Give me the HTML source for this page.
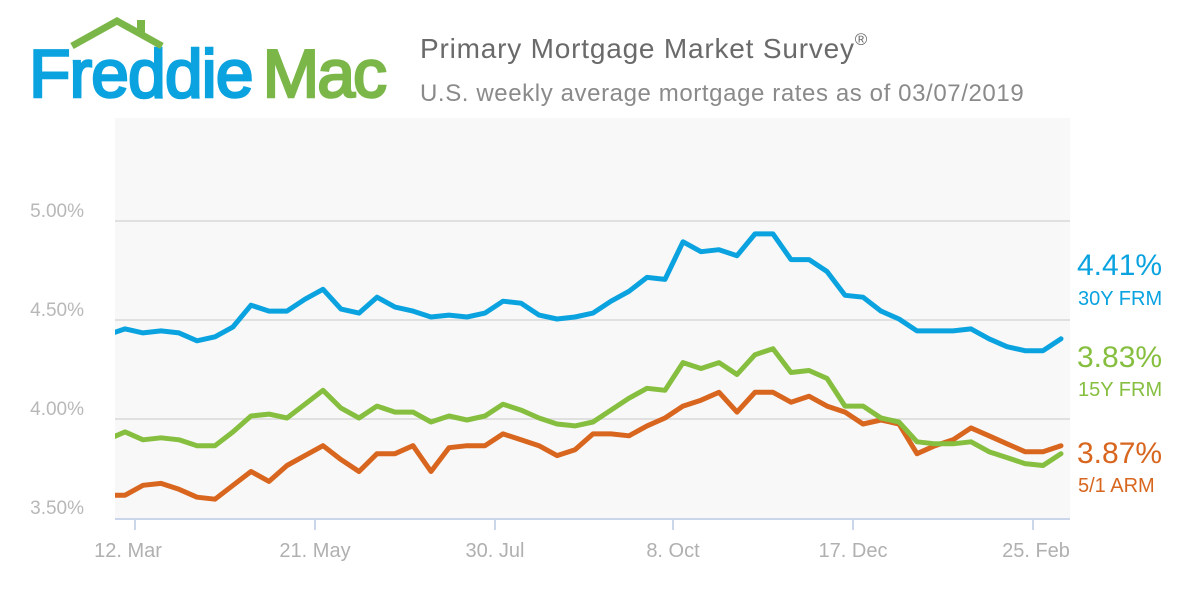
<!DOCTYPE html>
<html><head><meta charset="utf-8">
<style>
body{margin:0;width:1200px;height:600px;background:#fff;overflow:hidden;font-family:"Liberation Sans",sans-serif;}
</style></head>
<body>
<svg id="s" width="1200" height="600" xmlns="http://www.w3.org/2000/svg" font-family="Liberation Sans, sans-serif">
<rect x="115" y="118" width="955" height="402" fill="#f8f8f8"/>
<g stroke="#e0e0e0" stroke-width="2">
<line x1="115" y1="221" x2="1070" y2="221"/>
<line x1="115" y1="320" x2="1070" y2="320"/>
<line x1="115" y1="419" x2="1070" y2="419"/>
</g>
<line x1="115" y1="519" x2="1070" y2="519" stroke="#ccd6eb" stroke-width="2"/>
<g stroke="#ccd6eb" stroke-width="2">
<line x1="135" y1="519" x2="135" y2="530"/><line x1="315" y1="519" x2="315" y2="530"/>
<line x1="495" y1="519" x2="495" y2="530"/><line x1="673" y1="519" x2="673" y2="530"/>
<line x1="853" y1="519" x2="853" y2="530"/><line x1="1033" y1="519" x2="1033" y2="530"/>
</g>
<g fill="#b8b8b8" font-size="19" text-anchor="end">
<text x="84" y="217">5.00%</text><text x="84" y="316">4.50%</text>
<text x="84" y="415">4.00%</text><text x="84" y="514">3.50%</text>
</g>
<g fill="#b0b0b0" font-size="20" text-anchor="middle">
<text x="128" y="557">12. Mar</text><text x="315" y="557">21. May</text><text x="495" y="557">30. Jul</text>
<text x="673" y="557">8. Oct</text><text x="853" y="557">17. Dec</text><text x="1036" y="557">25. Feb</text>
</g>
<defs><clipPath id="c"><rect x="115" y="110" width="960" height="420"/></clipPath></defs>
<g id="lines" clip-path="url(#c)" fill="none" stroke-width="5" stroke-linejoin="round" stroke-linecap="round"></g>
<g font-size="30" text-anchor="start">
<text x="1077" y="275" fill="#0aa3e0">4.41%</text>
<text x="1077" y="367" fill="#86bf3f">3.83%</text>
<text x="1077" y="463" fill="#d8661f">3.87%</text>
</g>
<g font-size="20">
<text x="1078" y="305" fill="#0aa3e0">30Y FRM</text>
<text x="1078" y="396" fill="#86bf3f">15Y FRM</text>
<text x="1078" y="492" fill="#d8661f">5/1 ARM</text>
</g>
<text x="420" y="58" font-size="28" fill="#6a6a6a" letter-spacing="0.8">Primary Mortgage Market Survey<tspan font-size="17" dy="-13">®</tspan></text>
<text x="420" y="101" font-size="24" fill="#8a8a8a" letter-spacing="0.6">U.S. weekly average mortgage rates as of 03/07/2019</text>
<text x="29" y="97" font-size="68" fill="#0aa3e0" stroke="#0aa3e0" stroke-width="2.5" letter-spacing="-1">Freddie<tspan dx="10" fill="#7ab648" stroke="#7ab648" letter-spacing="-2">Mac</tspan></text>
<polyline points="72,46 117,21 162,46" fill="none" stroke="#7ab648" stroke-width="7"/>
<rect x="137" y="20" width="8" height="15" fill="#7ab648"/>
</svg>
<script>
var d30=[4.43,4.46,4.44,4.45,4.44,4.40,4.42,4.47,4.58,4.55,4.55,4.61,4.66,4.56,4.54,4.62,4.57,4.55,4.52,4.53,4.52,4.54,4.60,4.59,4.53,4.51,4.52,4.54,4.60,4.65,4.72,4.71,4.90,4.85,4.86,4.83,4.94,4.94,4.81,4.81,4.75,4.63,4.62,4.55,4.51,4.45,4.45,4.45,4.46,4.41,4.37,4.35,4.35,4.41];
var d15=[3.90,3.94,3.90,3.91,3.90,3.87,3.87,3.94,4.02,4.03,4.01,4.08,4.15,4.06,4.01,4.07,4.04,4.04,3.99,4.02,4.00,4.02,4.08,4.05,4.01,3.98,3.97,3.99,4.05,4.11,4.16,4.15,4.29,4.26,4.29,4.23,4.33,4.36,4.24,4.25,4.21,4.07,4.07,4.01,3.99,3.89,3.88,3.88,3.89,3.84,3.81,3.78,3.77,3.83];
var dA=[3.62,3.62,3.67,3.68,3.65,3.61,3.60,3.67,3.74,3.69,3.77,3.82,3.87,3.80,3.74,3.83,3.83,3.87,3.74,3.86,3.87,3.87,3.93,3.90,3.87,3.82,3.85,3.93,3.93,3.92,3.97,4.01,4.07,4.10,4.14,4.04,4.14,4.14,4.09,4.12,4.07,4.04,3.98,4.00,3.98,3.83,3.87,3.90,3.96,3.92,3.88,3.84,3.84,3.87];
var g=document.getElementById('lines');
[[dA,'#d8661f'],[d15,'#86bf3f'],[d30,'#0aa3e0']].forEach(function(s){
 var p=s[0].map(function(v,i){return (107+18*i)+','+(519-(v-3.5)*198).toFixed(1);}).join(' ');
 var e=document.createElementNS('http://www.w3.org/2000/svg','polyline');
 e.setAttribute('points',p);e.setAttribute('stroke',s[1]);g.appendChild(e);
});
</script>
</body></html>
